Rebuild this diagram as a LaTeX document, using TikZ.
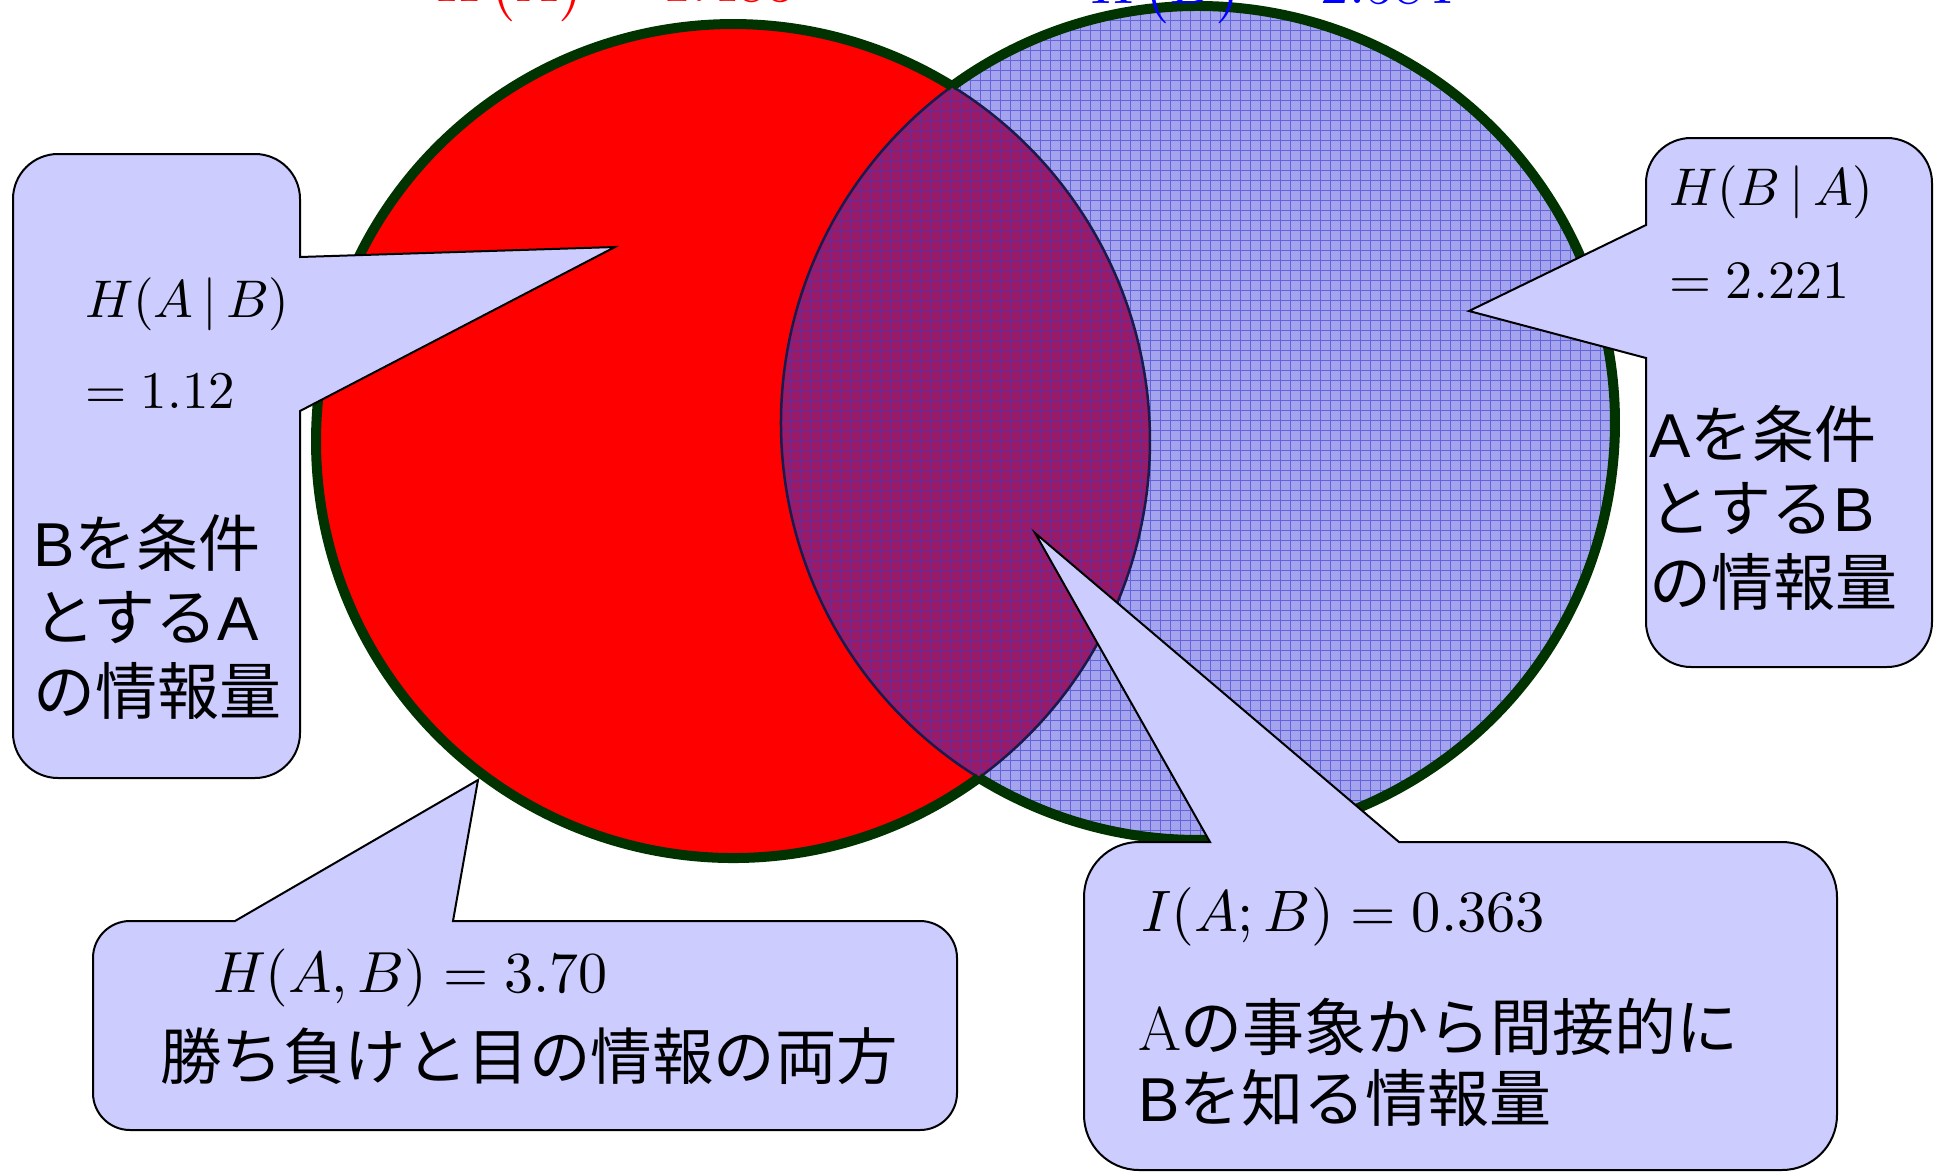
\documentclass[tikz,border=0pt]{standalone}
\usepackage{fontspec}
\usepackage{graphicx}
\newfontfamily\jpfont{Noto Sans CJK JP}
\newfontfamily\latsans{Liberation Sans}
\newcommand\mysize[2]{\fontsize{#1}{#2}\selectfont}
\newcommand\bigmath[2]{\scalebox{#1}{$#2$}}
\definecolor{callfill}{HTML}{CCCCFF}
\definecolor{ringgreen}{HTML}{003300}
\definecolor{bfill}{HTML}{A4A4EE}
\definecolor{lensfill}{HTML}{991A66}
\definecolor{gridblue}{HTML}{3838D0}
\definecolor{lensedge}{HTML}{1A1A4D}
\begin{document}
\begin{tikzpicture}[x=1pt,y=-1pt,
  callout/.style={fill=callfill,draw=black,line width=2pt,line join=miter},
  ring/.style={draw=ringgreen,line width=10pt,line cap=butt},
  lensline/.style={draw=lensedge,line width=2.5pt},
  gridline/.style={draw=gridblue,line width=1pt,opacity=0.6},
  lbl/.style={inner sep=0pt,outer sep=0pt},
  mathA/.style={lbl,anchor=base west,font=\normalsize},
  jpA/.style={lbl,anchor=west,align=left,font=\jpfont\mysize{62}{74}},
]
\useasboundingbox (0,0) rectangle (1936,1173);

% circle centres and intersection points
\coordinate (cA) at (733,441);
\coordinate (cB) at (1198,423);
\coordinate (T) at (952.1,86.2);
\coordinate (U) at (978.9,777.8);

% fills
\fill[red] (cA) circle[radius=417];
\fill[bfill] (cB) circle[radius=417];
\fill[lensfill] (T) arc[start angle=-58.30,end angle=53.87,radius=417]
                    arc[start angle=121.70,end angle=233.87,radius=417] -- cycle;
\begin{scope}
  \clip (cB) circle[radius=417];
  \draw[gridline,step=10pt] (770,850) grid (1630,0);
\end{scope}
\draw[lensline] (T) arc[start angle=-58.30,end angle=53.87,radius=417]
                    arc[start angle=121.70,end angle=233.87,radius=417] -- cycle;

% outer rings
\draw[ring] (U) arc[start angle=53.87,end angle=301.70,radius=417];
\draw[ring] (T) arc[start angle=-126.13,end angle=121.70,radius=417];

% titles cut off at the top
\node[mathA,text=red] (ha) at (436,1) {\bigmath{5.8}{H\bigl(A\bigr)=1.483}};
\node[mathA,text=blue] (hb) at (1090,3) {\bigmath{5.8}{H\bigl(B\bigr)=2.584}};

% left callout H(A|B)
\coordinate (tipL) at (615,247);
\draw[callout] (13,199) arc[start angle=180,end angle=270,radius=45] -- (255,154)
  arc[start angle=270,end angle=360,radius=45] -- (300,257) -- (tipL) -- (300,411)
  -- (300,733) arc[start angle=0,end angle=90,radius=45] -- (58,778)
  arc[start angle=90,end angle=180,radius=45] -- cycle;
\node[mathA] (hab) at (85,317) {\bigmath{5.3}{H(A\,|\,B)}};
\node[mathA] (hab2) at (85,408) {\bigmath{5.3}{=1.12}};
\node[jpA] (jpl) at (33,617) {{\latsans B}を条件\\とする{\latsans A}\\の情報量};

% right callout H(B|A)
\coordinate (tipR) at (1469,311);
\draw[callout] (1646,183) arc[start angle=180,end angle=270,radius=45] -- (1887,138)
  arc[start angle=270,end angle=360,radius=45] -- (1932,622)
  arc[start angle=0,end angle=90,radius=45] -- (1691,667)
  arc[start angle=90,end angle=180,radius=45] -- (1646,358) -- (tipR) -- (1646,225) -- cycle;
\node[mathA] (hba) at (1669,205) {\bigmath{5.3}{H(B\,|\,A)}};
\node[mathA] (hba2) at (1669,298) {\bigmath{5.4}{=2.221}};
\node[jpA] (jpr) at (1649,508) {{\latsans A}を条件\\とする{\latsans B}\\の情報量};

% bottom-left callout H(A,B)
\coordinate (tipBL) at (478,780);
\draw[callout] (93,958) arc[start angle=180,end angle=270,radius=37] -- (235,921) -- (tipBL)
  -- (453,921) -- (920,921) arc[start angle=270,end angle=360,radius=37] -- (957,1093)
  arc[start angle=0,end angle=90,radius=37] -- (130,1130)
  arc[start angle=90,end angle=180,radius=37] -- cycle;
\node[mathA] (hjoint) at (213,992) {\bigmath{5.8}{H(A,B)=3.70}};
\node[lbl,anchor=base west,font=\jpfont\mysize{61.5}{72}] (jpb) at (160,1079) {勝ち負けと目の情報の両方};

% bottom-right callout I(A;B)
\coordinate (tipBR) at (1035,533);
\draw[callout] (1084,897) arc[start angle=180,end angle=270,radius=55] -- (1210,842) -- (tipBR)
  -- (1399,842) -- (1782,842) arc[start angle=270,end angle=360,radius=55] -- (1837,1115)
  arc[start angle=0,end angle=90,radius=55] -- (1139,1170)
  arc[start angle=90,end angle=180,radius=55] -- cycle;
\node[mathA] (iab) at (1141,931) {\bigmath{5.85}{I(A;B)=0.363}};
\node[lbl,anchor=west,align=left,font=\jpfont\mysize{62}{71}] (jpbr) at (1138,1062)
  {{\normalfont A}の事象から間接的に\\{\latsans B}を知る情報量};
\end{tikzpicture}
\end{document}
